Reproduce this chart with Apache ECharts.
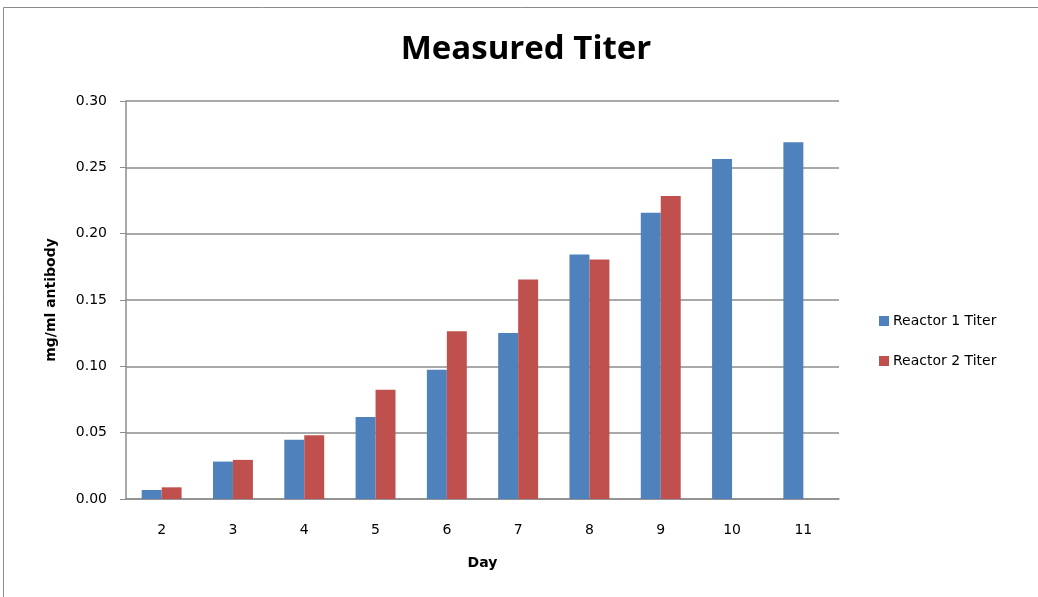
<!DOCTYPE html>
<html>
<head>
<meta charset="utf-8">
<script src="https://cdn.jsdelivr.net/npm/echarts@6/dist/echarts.min.js"></script>
<style>html,body{margin:0;padding:0;background:#fff}#c{width:1038px;height:597px}</style>
</head>
<body>
<div id="c"></div>
<script>
const days = ['2','3','4','5','6','7','8','9','10','11'];
const reactor1 = [0.0068, 0.0282, 0.0446, 0.0619, 0.0974, 0.1251, 0.1843, 0.2157, 0.2563, 0.2689];
const reactor2 = [0.0088, 0.0295, 0.0480, 0.0823, 0.1264, 0.1654, 0.1805, 0.2283, null, null];
const yTicks = {min: 0, max: 0.30, interval: 0.05};

const chart = echarts.init(document.getElementById('c'));
const font = '"DejaVu Sans", Verdana, sans-serif';
chart.setOption({
  animation: false,
  graphic: [{type: 'rect', shape: {x: 3.5, y: 7.5, width: 1100, height: 700}, style: {fill: 'none', stroke: '#8a8a8a', lineWidth: 1}, silent: true}],
  title: {text: 'Measured Titer', left: 521, top: 28, textAlign: 'center',
    textStyle: {fontFamily: '"Open Sans", Lato, sans-serif', fontWeight: 'bold', fontSize: 33, color: '#000'}},
  legend: {orient: 'vertical', left: 874, top: 309, itemGap: 26, itemWidth: 10, itemHeight: 10, icon: 'rect',
    textStyle: {fontFamily: font, fontSize: 14, color: '#000', padding: [0,0,0,-1]}},
  grid: {left: 126, right: 199, top: 101, bottom: 98, containLabel: false},
  xAxis: {type: 'category', data: days, name: 'Day', nameLocation: 'middle', nameGap: 57,
    nameTextStyle: {fontFamily: font, fontWeight: 'bold', fontSize: 14, color: '#000'},
    axisLine: {lineStyle: {color: '#8c8c8c', width: 1.5}}, axisTick: {show: false},
    axisLabel: {fontFamily: font, fontSize: 14, color: '#000', margin: 24}},
  yAxis: {type: 'value', min: yTicks.min, max: yTicks.max, interval: yTicks.interval,
    name: 'mg/ml antibody', nameLocation: 'middle', nameGap: 68,
    nameTextStyle: {fontFamily: font, fontWeight: 'bold', fontSize: 14, color: '#000'},
    axisLine: {show: true, lineStyle: {color: '#8c8c8c', width: 1.5}},
    axisTick: {show: true, length: 6, lineStyle: {color: '#8c8c8c'}},
    splitLine: {lineStyle: {color: '#8c8c8c', width: 1.5}},
    axisLabel: {fontFamily: font, fontSize: 14, color: '#000', margin: 19, formatter: v => v.toFixed(2)}},
  series: [
    {name: 'Reactor 1 Titer', type: 'bar', data: reactor1, barGap: '0%', barCategoryGap: '44%',
      itemStyle: {color: '#4f81bd'}},
    {name: 'Reactor 2 Titer', type: 'bar', data: reactor2, barGap: '0%', barCategoryGap: '44%',
      itemStyle: {color: '#c0504d'}}
  ]
});
</script>
</body>
</html>
